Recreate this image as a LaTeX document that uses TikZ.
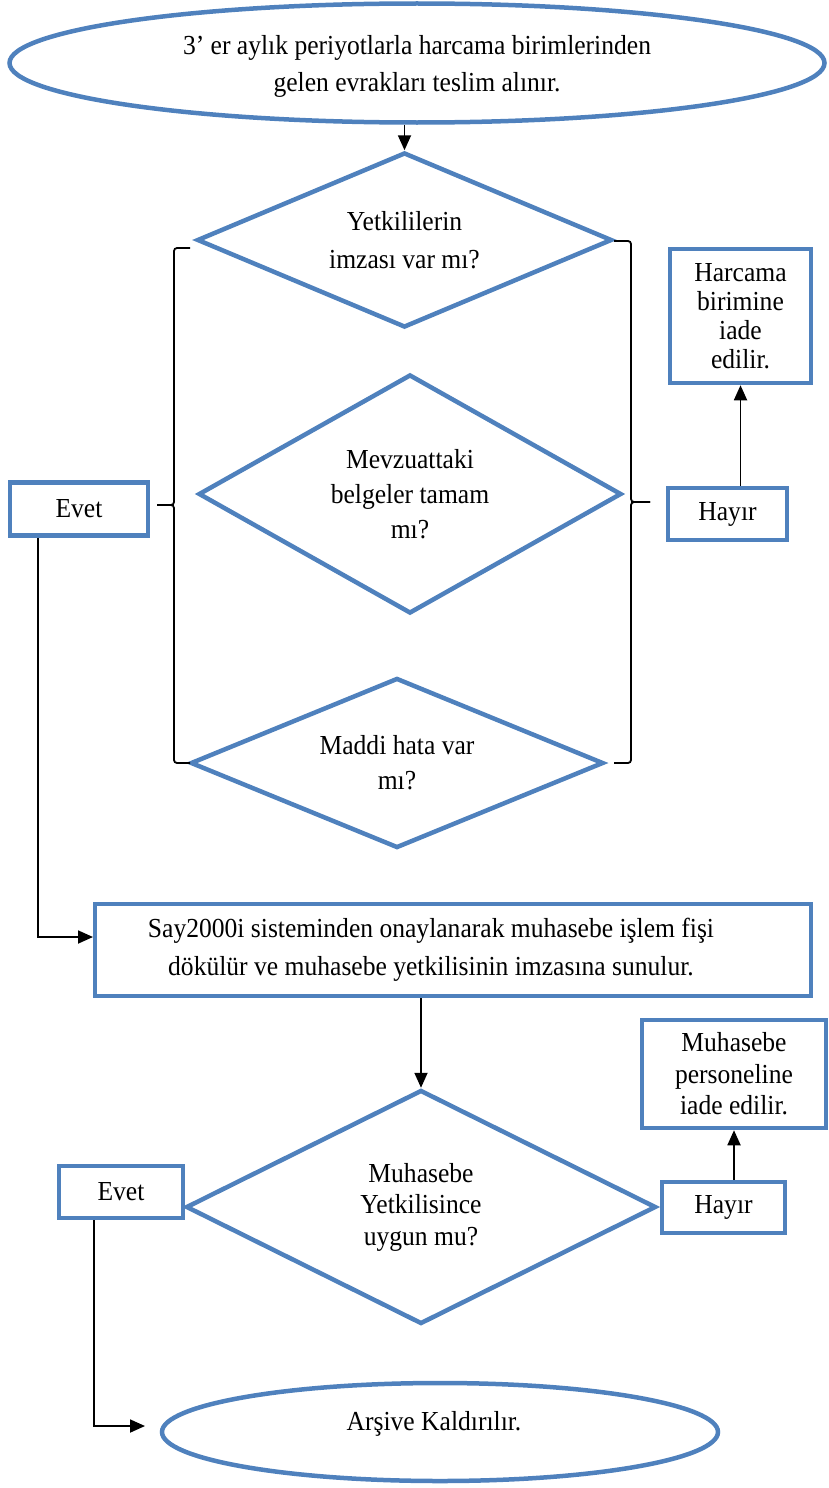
\documentclass[tikz,border=0pt]{standalone}
\usepackage{fontspec}
\setmainfont{Liberation Serif}[FakeStretch=0.93]
\usetikzlibrary{shapes.geometric,arrows.meta}
\definecolor{ublue}{RGB}{79,129,189}
\newcommand\fsz[1]{\fontsize{27.5}{#1}\selectfont}
\begin{document}
\begin{tikzpicture}[x=1pt,y=-1pt,
  shp/.style={draw=ublue, line width=4.5pt, inner sep=0pt, align=center},
  term/.style={shp, ellipse},
  dec/.style={shp, diamond},
  box/.style={shp, rectangle},
  arr/.style={draw=black, line width=1.8pt, -{Triangle[length=15pt,width=13pt]}},
  bracestyle/.style={draw=black, line width=1.8pt, rounded corners=3pt}]
\useasboundingbox (0,0) rectangle (828,1488);

% terminals
\node[term, minimum width=815, minimum height=119,
  label={[font=\fsz{37}, align=center, yshift=-3pt]center:3’ er aylık periyotlarla harcama birimlerinden\\gelen evrakları teslim alınır.}] (start) at (417,63) {};
\node[term, minimum width=556, minimum height=98, font=\fsz{35},
  label={[font=\fsz{35}, xshift=-6pt, yshift=8pt]center:Arşive Kaldırılır.}] (end) at (440,1432) {};

% decisions
\node[dec, minimum width=415, minimum height=175, shape aspect=2.37, font=\fsz{38}] (d1) at (404.5,240)
  {Yetkililerin\\imzası var mı?};
\node[dec, minimum width=423, minimum height=239, shape aspect=1.77, font=\fsz{35}] (d2) at (410,494)
  {Mevzuattaki\\belgeler tamam\\mı?};
\node[dec, minimum width=413, minimum height=170, shape aspect=2.43, font=\fsz{35}] (d3) at (397,763)
  {Maddi hata var\\mı?};
\node[dec, minimum width=470, minimum height=234, shape aspect=2.0, font=\fsz{31.5}] (d4) at (421,1207)
  {Muhasebe\\Yetkilisince\\uygun mu?};

% boxes
\node[box, minimum width=138, minimum height=53, font=\fsz{30}] (evet1) at (79,509) {Evet};
\node[box, minimum width=119, minimum height=52, font=\fsz{30}] (hayir1) at (727.5,514) {Hayır};
\node[box, minimum width=141, minimum height=134, font=\fsz{29}] (harcama) at (740.5,316)
  {Harcama\\birimine\\iade\\edilir.};
\node[box, minimum width=716, minimum height=92,
  label={[font=\fsz{38}, align=center, xshift=-22pt]center:Say2000i sisteminden onaylanarak muhasebe işlem fişi\\dökülür ve muhasebe yetkilisinin imzasına sunulur.}] (say) at (453,950) {};
\node[box, minimum width=124, minimum height=52, font=\fsz{30}] (evet2) at (121,1192) {Evet};
\node[box, minimum width=123, minimum height=51, font=\fsz{30}] (hayir2) at (723.5,1207.5) {Hayır};
\node[box, minimum width=184, minimum height=108, font=\fsz{31.5}] (muh) at (734,1074)
  {Muhasebe\\personeline\\iade edilir.};

% braces
\draw[bracestyle] (190,248) -- (174,248) -- (174,505) -- (157,505);
\draw[bracestyle] (157,505) -- (174,505) -- (174,763) -- (190,763);
\draw[bracestyle] (614,241) -- (631,241) -- (631,502) -- (650,502);
\draw[bracestyle] (650,502) -- (631,502) -- (631,763) -- (614,763);

% connectors
\coordinate (sayin) at (93,937);
\coordinate (endin) at (145,1426);
\draw[arr] (d1.north |- start.south) -- (d1.north);
\draw[arr] (harcama.south |- hayir1.north) -- (harcama.south);
\draw[arr] ([xshift=-41pt]evet1.south) |- (sayin);
\draw[arr] (d4.north |- say.south) -- (d4.north);
\draw[arr] (muh.south |- hayir2.north) -- (muh.south);
\draw[arr] ([xshift=-27pt]evet2.south) |- (endin);
\end{tikzpicture}
\end{document}
